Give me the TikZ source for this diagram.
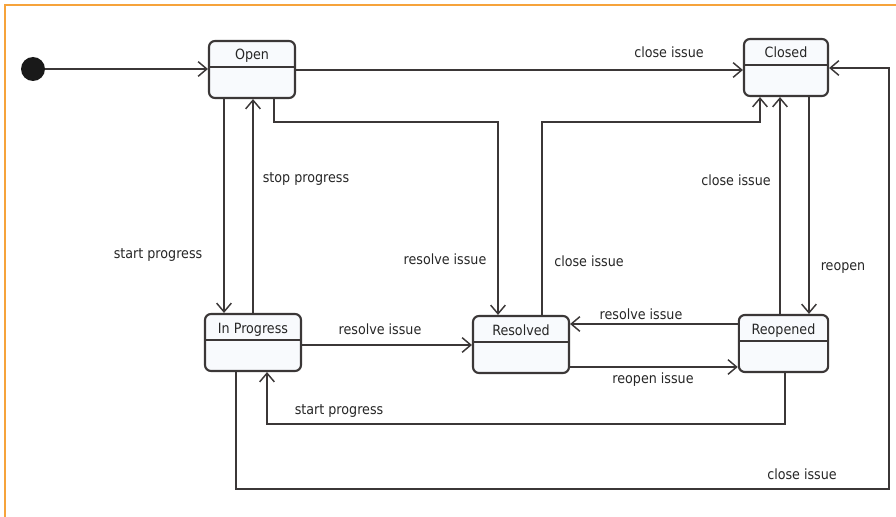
\documentclass[tikz,border=0pt]{standalone}
\usepackage{fontspec}
\setsansfont{DejaVu Sans Condensed}
\usetikzlibrary{arrows.meta, calc}
\definecolor{cline}{HTML}{3B3737}
\definecolor{cfill}{HTML}{F8FAFD}
\definecolor{cframe}{HTML}{F6A33B}
\tikzset{
  every picture/.style={font=\sffamily\fontsize{10.6}{12}\selectfont},
  state/.style={draw=cline, fill=cfill, line width=1.6pt, rounded corners=4.5pt,
    minimum width=#1, inner xsep=0pt, inner ysep=0pt, text height=14.25pt, text depth=28.5pt,
    text=black!85,
    path picture={\draw[cline, line width=1pt]
      ([yshift=-19.5pt]path picture bounding box.north west) --
      ([yshift=-19.5pt]path picture bounding box.north east);}},
  state/.default=66pt,
  arr/.style={draw=cline, line width=1.1pt, -{Straight Barb[length=6.5pt, width=11pt, line width=1.1pt]}},
  lbl/.style={text=black!85, inner sep=1pt},
}

\begin{document}
\begin{tikzpicture}[x=0.75pt, y=-0.75pt]
  \useasboundingbox (0,0) rectangle (896,517);
  \draw[cframe, line width=1.6pt] (5,517) -- (5,5) -- (896,5);
  % states
  \node[circle, fill=black!90, minimum size=18pt, inner sep=0pt] (init) at (33,69) {};
  \node[state=64.5pt] (open) at (252,69.5) {Open};
  \node[state=63pt] (closed) at (786,67.5) {Closed};
  \node[state=72pt] (inprog) at (253,342.5) {In Progress};
  \node[state=72pt] (resolved) at (521,344.5) {Resolved};
  \node[state=67pt] (reopened) at (783.5,343.5) {Reopened};
  % transitions
  \draw[arr] (init) -- (init -| open.west);
  \draw[arr] (open.east |- 0,70) -- (closed.west |- 0,70);
  \draw[arr] (open.south -| 274,0) |- (498,122) -- (resolved.north -| 498,0);
  \draw[arr] (open.south -| 224,0) -- (inprog.north -| 224,0);
  \draw[arr] (inprog.north -| 253,0) -- (open.south -| 253,0);
  \draw[arr] (inprog.east |- 0,345) -- (resolved.west |- 0,345);
  \draw[arr] (resolved.north -| 542,0) |- (760,122) -- (closed.south -| 760,0);
  \draw[arr] (reopened.north -| 780,0) -- (closed.south -| 780,0);
  \draw[arr] (closed.south -| 809,0) -- (reopened.north -| 809,0);
  \draw[arr] (reopened.west |- 0,324) -- (resolved.east |- 0,324);
  \draw[arr] (resolved.east |- 0,367) -- (reopened.west |- 0,367);
  \draw[arr] (reopened.south -| 785,0) |- (267,424) -- (inprog.south -| 267,0);
  \draw[arr] (inprog.south -| 236,0) |- (889,489) |- (closed.east |- 0,68);
  % labels
  \node[lbl] (l-close1) at (669,52) {close issue};
  \node[lbl] (l-start1) at (158,255) {start progress};
  \node[lbl] (l-stop) at (306,179) {stop progress};
  \node[lbl] (l-resolve1) at (445,259) {resolve issue};
  \node[lbl] (l-close2) at (589,261) {close issue};
  \node[lbl] (l-close3) at (736,180) {close issue};
  \node[lbl] (l-reopen) at (843,268) {reopen};
  \node[lbl] (l-resolve2) at (380,329) {resolve issue};
  \node[lbl] (l-resolve3) at (641,314) {resolve issue};
  \node[lbl] (l-reopen2) at (653,380) {reopen issue};
  \node[lbl] (l-start2) at (339,411) {start progress};
  \node[lbl] (l-close4) at (802,474) {close issue};
\end{tikzpicture}
\end{document}
